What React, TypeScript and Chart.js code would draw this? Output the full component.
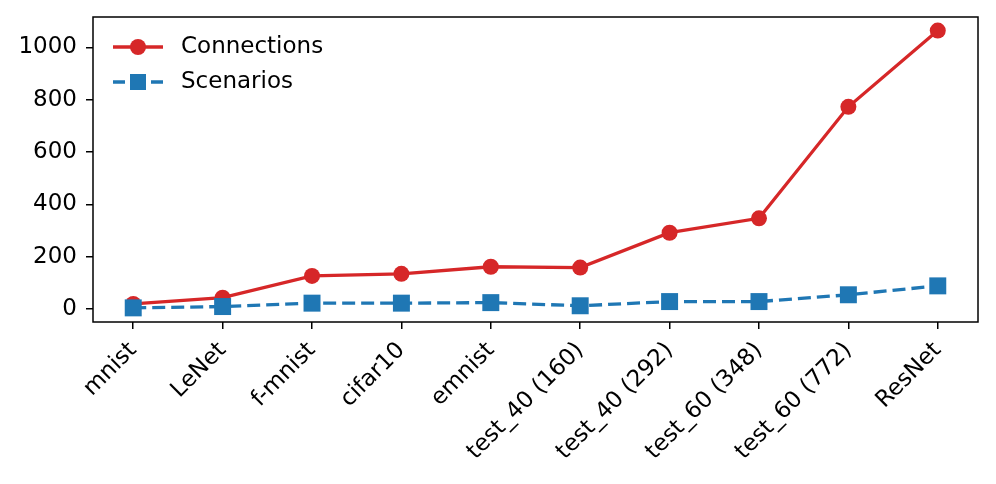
import React, { useEffect, useRef } from "react";
import { Chart, registerables } from "chart.js";

Chart.register(...registerables);

const categories = [
  "mnist",
  "LeNet",
  "f-mnist",
  "cifar10",
  "emnist",
  "test_40 (160)",
  "test_40 (292)",
  "test_60 (348)",
  "test_60 (772)",
  "ResNet",
];
const connections = [20, 44, 127, 135, 162, 159, 292, 347, 773, 1064];
const scenarios = [5, 10, 23, 23, 25, 13, 29, 29, 55, 89];
const yTicks = [0, 200, 400, 600, 800, 1000];

const RED = "#d62728";
const BLUE = "#1f77b4";
const FONT = "'DejaVu Sans', sans-serif";
const FS = 23;

const framePlugin = {
  id: "frame",
  afterDraw(chart: any) {
    const { ctx, chartArea } = chart;
    ctx.save();
    ctx.strokeStyle = "#000";
    ctx.lineWidth = 1.5;
    ctx.strokeRect(chartArea.left, chartArea.top, chartArea.right - chartArea.left, chartArea.bottom - chartArea.top);
    ctx.restore();
  },
};

const legendPlugin = {
  id: "customLegend",
  afterDraw(chart: any) {
    const { ctx, chartArea } = chart;
    const x0 = chartArea.left + 20;
    const rows = [
      { y: chartArea.top + 30, label: "Connections", color: RED, dashed: false, shape: "circle" },
      { y: chartArea.top + 65, label: "Scenarios", color: BLUE, dashed: true, shape: "rect" },
    ];
    ctx.save();
    rows.forEach((r) => {
      ctx.strokeStyle = r.color;
      ctx.fillStyle = r.color;
      ctx.lineWidth = 3.3;
      ctx.beginPath();
      if (r.dashed) {
        ctx.moveTo(x0, r.y);
        ctx.lineTo(x0 + 12, r.y);
        ctx.moveTo(x0 + 38, r.y);
        ctx.lineTo(x0 + 50, r.y);
      } else {
        ctx.moveTo(x0, r.y);
        ctx.lineTo(x0 + 50, r.y);
      }
      ctx.stroke();
      ctx.beginPath();
      if (r.shape === "circle") {
        ctx.arc(x0 + 25, r.y, 8, 0, Math.PI * 2);
      } else {
        ctx.rect(x0 + 25 - 8, r.y - 8, 16, 16);
      }
      ctx.fill();
      ctx.fillStyle = "#000";
      ctx.font = `${FS}px ${FONT}`;
      ctx.textBaseline = "middle";
      ctx.textAlign = "left";
      ctx.fillText(r.label, x0 + 68, r.y);
    });
    ctx.restore();
  },
};

export default function App() {
  const ref = useRef<HTMLCanvasElement | null>(null);

  useEffect(() => {
    if (!ref.current) return;
    const chart = new Chart(ref.current, {
      type: "line",
      data: {
        datasets: [
          {
            label: "Connections",
            data: connections.map((v, i) => ({ x: i, y: v })),
            borderColor: RED,
            backgroundColor: RED,
            borderWidth: 3.3,
            pointStyle: "circle",
            pointRadius: 8,
            pointBorderWidth: 0,
            pointBackgroundColor: RED,
            tension: 0,
            order: 2,
          },
          {
            label: "Scenarios",
            data: scenarios.map((v, i) => ({ x: i, y: v })),
            borderColor: BLUE,
            backgroundColor: BLUE,
            borderWidth: 3.3,
            borderDash: [13, 6],
            pointStyle: "rect",
            pointRadius: 12,
            pointBorderWidth: 0,
            pointBackgroundColor: BLUE,
            tension: 0,
            order: 1,
          },
        ],
      },
      options: {
        responsive: false,
        animation: false,
        layout: { padding: { left: 0, top: 17, right: 18, bottom: 0 } },
        plugins: {
          legend: { display: false },
          tooltip: { enabled: false },
        },
        scales: {
          x: {
            type: "linear",
            min: -0.45,
            max: 9.45,
            afterBuildTicks: (scale: any) => {
              scale.ticks = categories.map((_, i) => ({ value: i }));
            },
            afterFit: (scale: any) => {
              scale.height = 162;
              scale.paddingLeft = 0;
              scale.paddingRight = 0;
            },
            border: { display: false },
            grid: {
              drawOnChartArea: false,
              drawTicks: true,
              tickLength: 7,
              color: "#000",
              lineWidth: 1.5,
            },
            ticks: {
              autoSkip: false,
              minRotation: 45,
              maxRotation: 45,
              padding: 8,
              color: "#000",
              font: { family: FONT, size: FS },
              callback: (v: any) => categories[v as number] ?? "",
            },
          },
          y: {
            type: "linear",
            min: -49,
            max: 1116,
            afterBuildTicks: (scale: any) => {
              scale.ticks = yTicks.map((v) => ({ value: v }));
            },
            afterFit: (scale: any) => {
              scale.width = 93;
              scale.paddingTop = 0;
              scale.paddingBottom = 0;
            },
            border: { display: false },
            grid: {
              drawOnChartArea: false,
              drawTicks: true,
              tickLength: 7,
              color: "#000",
              lineWidth: 1.5,
            },
            ticks: {
              padding: 9,
              color: "#000",
              font: { family: FONT, size: FS },
              callback: (v: any) => String(v),
            },
          },
        },
      },
      plugins: [framePlugin, legendPlugin],
    } as any);
    return () => chart.destroy();
  }, []);

  return (
    <div style={{ position: "absolute", left: 0, top: 0, width: 996, height: 484, background: "#fff" }}>
      <canvas ref={ref} width={996} height={484} style={{ display: "block" }} />
    </div>
  );
}
